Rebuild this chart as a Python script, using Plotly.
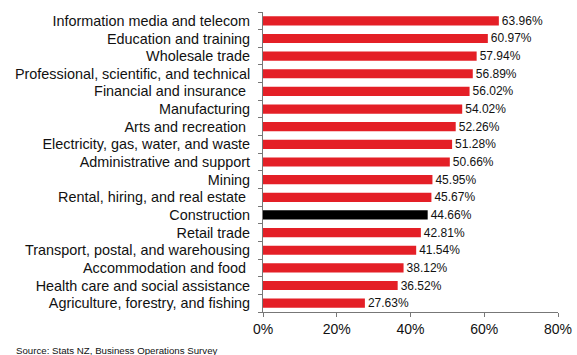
import plotly.graph_objects as go

# Share of businesses by industry (percent), top to bottom
industries = [
    "Information media and telecom",
    "Education and training",
    "Wholesale trade",
    "Professional, scientific, and technical",
    "Financial and insurance ",
    "Manufacturing",
    "Arts and recreation ",
    "Electricity, gas, water, and waste",
    "Administrative and support",
    "Mining",
    "Rental, hiring, and real estate ",
    "Construction",
    "Retail trade",
    "Transport, postal, and warehousing",
    "Accommodation and food ",
    "Health care and social assistance",
    "Agriculture, forestry, and fishing",
]
values = [63.96, 60.97, 57.94, 56.89, 56.02, 54.02, 52.26, 51.28, 50.66,
          45.95, 45.67, 44.66, 42.81, 41.54, 38.12, 36.52, 27.63]
highlight = "Construction"

x_ticks = [0, 20, 40, 60, 80]
x_tick_labels = ["0%", "20%", "40%", "60%", "80%"]

RED = "#E41F26"
colors = ["#000000" if c == highlight else RED for c in industries]

fig = go.Figure(go.Bar(
    x=values,
    y=industries,
    orientation="h",
    marker=dict(color=colors, line=dict(width=0)),
    text=[f"{v:.2f}%" for v in values],
    textposition="outside",
    constraintext="none",
    textfont=dict(family="Liberation Sans, Arial", size=12, color="#111111"),
    cliponaxis=False,
))

fig.update_layout(
    width=577,
    height=355,
    margin=dict(l=263, r=19, t=12, b=43),
    paper_bgcolor="white",
    plot_bgcolor="white",
    bargap=0.48,
    showlegend=False,
    font=dict(family="Liberation Sans, Arial", color="#111111"),
    xaxis=dict(
        range=[0, 80],
        tickvals=x_ticks,
        ticktext=x_tick_labels,
        ticks="outside",
        ticklen=4,
        tickcolor="#777777",
        showline=True,
        linecolor="#777777",
        linewidth=1,
        showgrid=False,
        zeroline=False,
        tickfont=dict(size=14),
        automargin=False,
        fixedrange=True,
    ),
    yaxis=dict(
        categoryorder="array",
        categoryarray=industries[::-1],
        ticks="outside",
        tickson="boundaries",
        ticklen=4,
        tickcolor="#777777",
        showline=True,
        linecolor="#777777",
        linewidth=1,
        showgrid=False,
        tickfont=dict(size=14.4),
        ticklabelstandoff=9,
        automargin=False,
        fixedrange=True,
    ),
    annotations=[dict(
        text="Source: Stats NZ, Business Operations Survey",
        xref="paper", yref="paper",
        x=(14 - 263) / 295, y=(355 - 43 - 350) / 300,
        xanchor="left", yanchor="middle",
        showarrow=False,
        font=dict(size=9.7, color="#111111"),
    )],
)

fig.write_html("out.html")
